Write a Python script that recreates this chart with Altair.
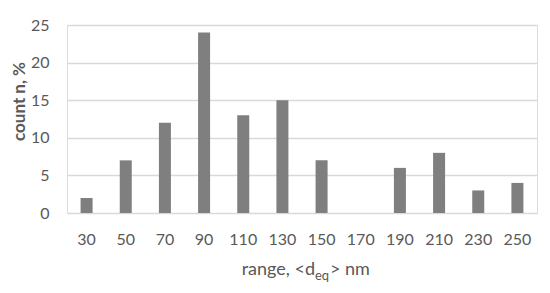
import altair as alt
import pandas as pd

categories = ["30", "50", "70", "90", "110", "130", "150", "170", "190", "210", "230", "250"]
counts = [2, 7, 12, 24, 13, 15, 7, 0, 6, 8, 3, 4]

df = pd.DataFrame({"range": categories, "count": counts})
one = pd.DataFrame({"k": [0]})

FONT = "Lato"
GREY = "#595959"

bars = alt.Chart(df).mark_bar(color="#7f7f7f", size=12).encode(
    x=alt.X("range:N", sort=categories,
            scale=alt.Scale(paddingInner=0, paddingOuter=0),
            axis=alt.Axis(title=None, labelAngle=0, labelFont=FONT, labelFontSize=16,
                          labelColor=GREY, ticks=False, domain=False, labelPadding=18, grid=False)),
    y=alt.Y("count:Q", scale=alt.Scale(domain=[0, 25]),
            axis=alt.Axis(title="count n, %", values=[0, 5, 10, 15, 20, 25],
                          labelFont=FONT, labelFontSize=16, labelColor=GREY,
                          titleFont=FONT, titleFontSize=17, titleColor=GREY, titleFontWeight="bold",
                          titleX=-48, titleY=76, titleAlign="center", titleBaseline="middle",
                          titleAngle=270,
                          ticks=False, domain=False, labelPadding=18,
                          gridColor="#d9d9d9", gridWidth=1.5)),
)

t_main = alt.Chart(one).mark_text(align="right", baseline="alphabetic", font=FONT, fontSize=18,
                                  fontWeight="normal", color=GREY).encode(
    x=alt.value(248), y=alt.value(250), text=alt.value("range, <d"))
t_sub = alt.Chart(one).mark_text(align="left", baseline="alphabetic", font=FONT, fontSize=13,
                                 fontWeight="normal", color=GREY).encode(
    x=alt.value(248), y=alt.value(255), text=alt.value("eq"))
t_end = alt.Chart(one).mark_text(align="left", baseline="alphabetic", font=FONT, fontSize=18,
                                 fontWeight="normal", color=GREY).encode(
    x=alt.value(263), y=alt.value(250), text=alt.value("> nm"))

chart = alt.layer(bars, t_main, t_sub, t_end).properties(
    width=470, height=188,
    autosize=alt.AutoSizeParams(type="none"),
    padding={"left": 59, "top": 17, "right": 5, "bottom": 70},
).configure_view(stroke=None).configure(background="white")

chart.save("out.html", embed_options={"renderer": "svg", "actions": False})
